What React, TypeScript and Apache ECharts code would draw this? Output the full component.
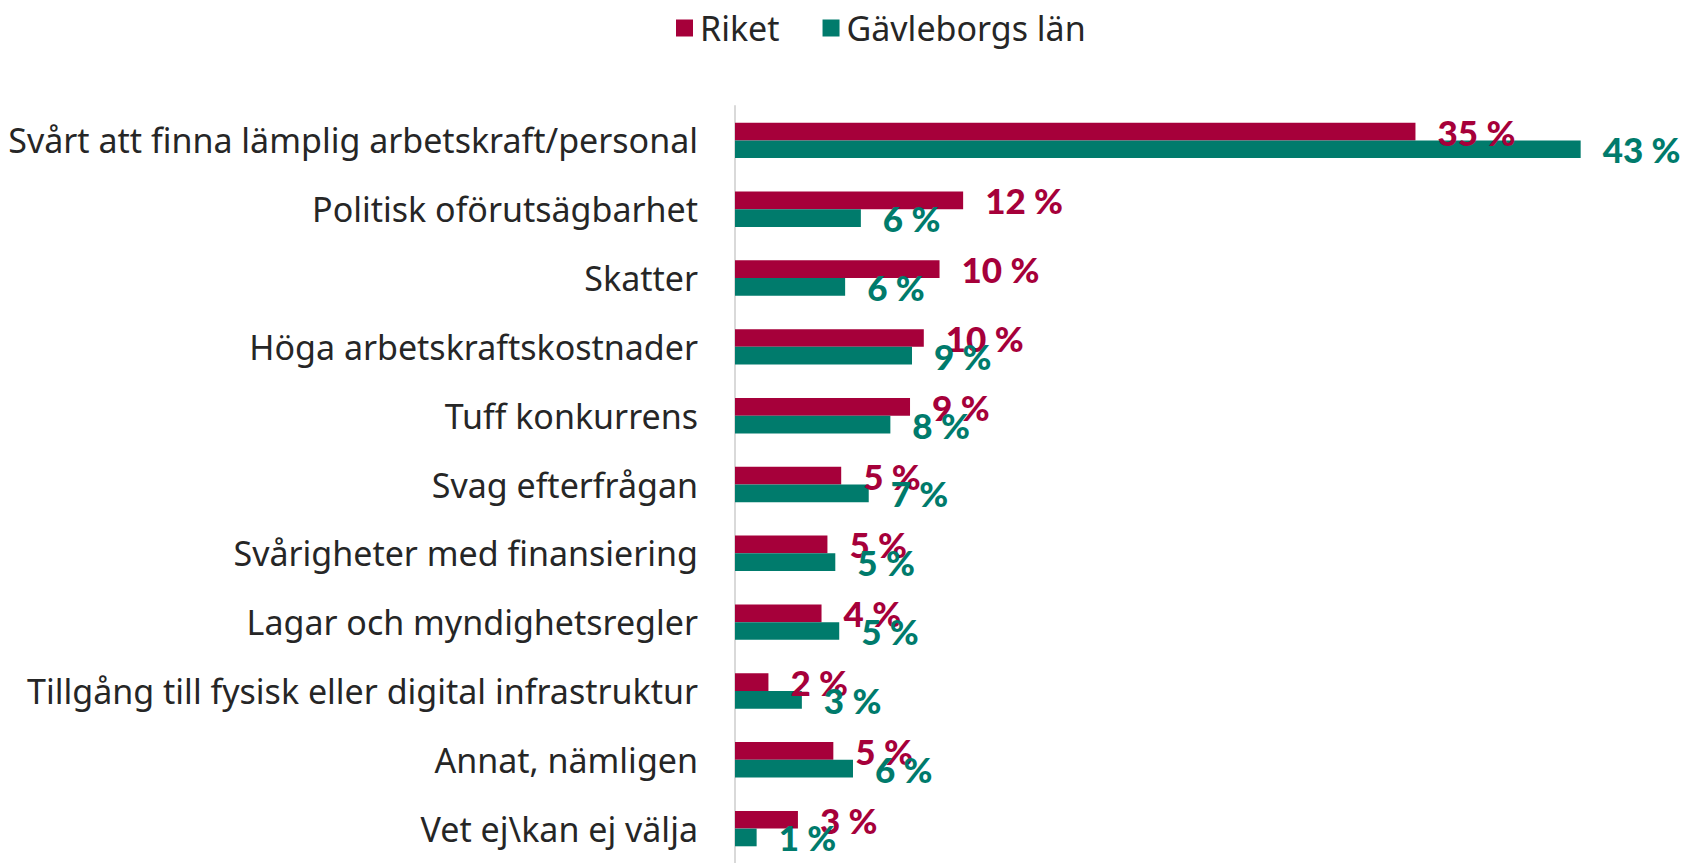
import React, { useEffect, useRef } from "react";
import * as echarts from "echarts";

const categories = [
  "Svårt att finna lämplig arbetskraft/personal",
  "Politisk oförutsägbarhet",
  "Skatter",
  "Höga arbetskraftskostnader",
  "Tuff konkurrens",
  "Svag efterfrågan",
  "Svårigheter med finansiering",
  "Lagar och myndighetsregler",
  "Tillgång till fysisk eller digital infrastruktur",
  "Annat, nämligen",
  "Vet ej\\kan ej välja",
];

const riket = [34.6, 11.6, 10.4, 9.6, 8.9, 5.4, 4.7, 4.4, 1.7, 5.0, 3.2];
const gavleborg = [43.0, 6.4, 5.6, 9.0, 7.9, 6.8, 5.1, 5.3, 3.4, 6.0, 1.1];

const seriesNames = ["Riket", "Gävleborgs län"];
const colors = ["#A6003A", "#007B6C"];

export default function App() {
  const ref = useRef<HTMLDivElement>(null);
  useEffect(() => {
    if (!ref.current) return;
    const chart = echarts.init(ref.current, undefined, { renderer: "svg" });
    const labelCfg = (color: string) => ({
      show: true,
      position: "right" as const,
      distance: 22,
      color,
      fontFamily: "Lato",
      fontWeight: 900,
      fontSize: 35,
      formatter: (p: any) => `${Math.round(p.value)} %`,
    });
    chart.setOption({
      animation: false,
      backgroundColor: "#ffffff",
      legend: {
        data: seriesNames,
        left: 671,
        top: 6,
        icon: "rect",
        itemWidth: 17,
        itemHeight: 17,
        itemGap: 43,
        textStyle: {
          fontFamily: "Noto Sans",
          fontSize: 34,
          color: "#262626",
          padding: [0, 0, 0, 2],
        },
      },
      grid: { left: 735, right: 70, top: 106, bottom: -7.5, containLabel: false },
      xAxis: {
        type: "value",
        min: 0,
        max: 45,
        show: false,
        splitLine: { show: false },
      },
      yAxis: {
        type: "category",
        data: categories,
        inverse: true,
        axisLine: { show: true, lineStyle: { color: "#d9d9d9", width: 2 } },
        axisTick: { show: false },
        axisLabel: {
          margin: 37,
          fontFamily: "Noto Sans",
          fontSize: 34,
          color: "#262626",
        },
      },
      series: [
        {
          name: seriesNames[0],
          type: "bar",
          data: riket,
          barWidth: 17.7,
          barGap: "0%",
          itemStyle: { color: colors[0] },
          label: labelCfg(colors[0]),
        },
        {
          name: seriesNames[1],
          type: "bar",
          data: gavleborg,
          barWidth: 17.7,
          barGap: "0%",
          itemStyle: { color: colors[1] },
          label: labelCfg(colors[1]),
        },
      ],
    });
    return () => chart.dispose();
  }, []);
  return (
    <div
      ref={ref}
      style={{ position: "fixed", left: 0, top: 0, width: 1690, height: 863 }}
    />
  );
}
